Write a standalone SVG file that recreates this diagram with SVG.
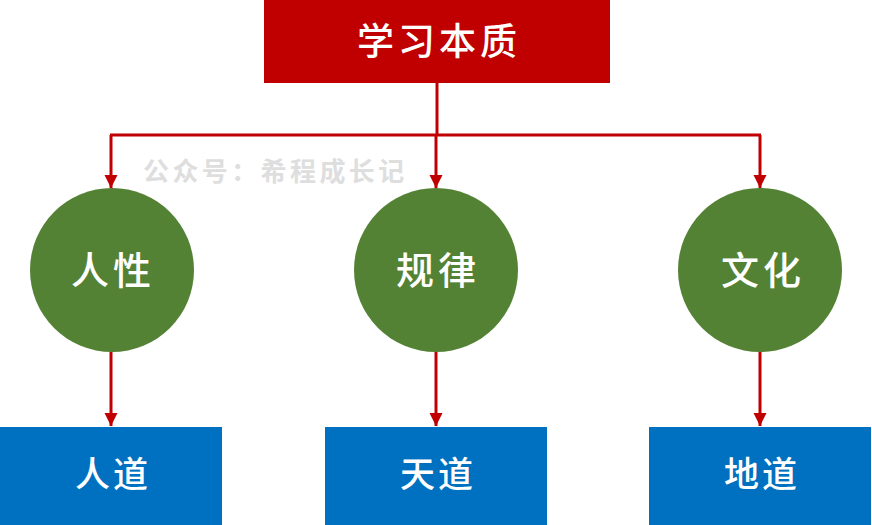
<svg xmlns="http://www.w3.org/2000/svg" width="872" height="525" viewBox="0 0 872 525">
<style>
text{font-family:"Noto Sans CJK SC","Noto Sans",sans-serif;text-anchor:middle;fill:#fff;font-weight:500}
.c{fill:#548235}
.b{fill:#0070c0}
.l{fill:none;stroke:#c00000;stroke-width:3}
.big{font-size:37px}
.mid{font-size:38px}
.sm{font-size:35px}
.wm{font-size:26px;fill:#dedede;letter-spacing:3.4px;text-anchor:start;font-weight:700}
</style>
<defs>
<marker id="a" markerUnits="userSpaceOnUse" markerWidth="14" markerHeight="14" refX="13" refY="7" orient="auto"><path d="M0 0.5L13 7L0 13.5Z" fill="#c00000"/></marker>
</defs>
<rect width="872" height="525" fill="#fff"/>
<g id="connectors">
<path class="l" d="M437 82V135"/>
<path class="l" d="M110 135H761" />
<path class="l" marker-end="url(#a)" d="M111 135V188"/>
<path class="l" marker-end="url(#a)" d="M436 135V188"/>
<path class="l" marker-end="url(#a)" d="M760 135V188"/>
<path class="l" marker-end="url(#a)" d="M111 352V426"/>
<path class="l" marker-end="url(#a)" d="M436 352V426"/>
<path class="l" marker-end="url(#a)" d="M760 352V426"/>
</g>
<g id="top"><rect x="264" y="0" width="346" height="83" fill="#c00000"/><text class="big" x="439" y="55" letter-spacing="4">学习本质</text></g>
<text class="wm" x="143" y="181">公众号：希程成长记</text>
<g id="n1"><circle class="c" cx="112" cy="270" r="82"/><text class="mid" x="113" y="284" letter-spacing="4">人性</text></g>
<g id="n2"><circle class="c" cx="436" cy="270" r="82"/><text class="mid" x="438" y="284" letter-spacing="4">规律</text></g>
<g id="n3"><circle class="c" cx="760" cy="270" r="82"/><text class="mid" x="763" y="284" letter-spacing="4">文化</text></g>
<g id="b1"><rect class="b" x="0" y="427" width="222" height="98"/><text class="sm" x="113" y="487" letter-spacing="3">人道</text></g>
<g id="b2"><rect class="b" x="325" y="427" width="222" height="98"/><text class="sm" x="438" y="487" letter-spacing="3">天道</text></g>
<g id="b3"><rect class="b" x="649" y="427" width="222" height="98"/><text class="sm" x="762" y="487" letter-spacing="3">地道</text></g>
</svg>
